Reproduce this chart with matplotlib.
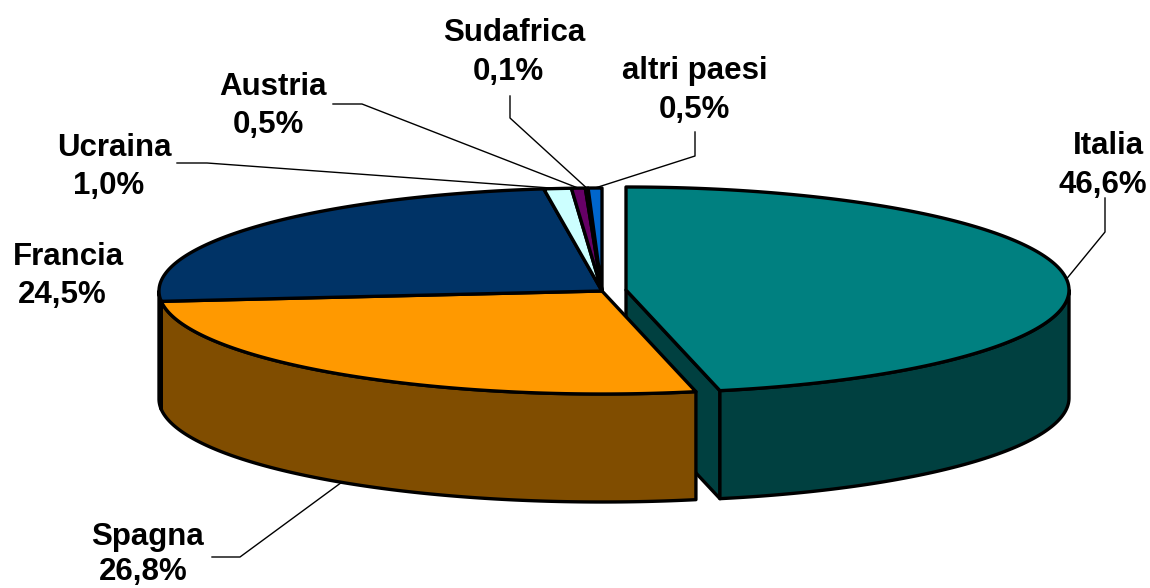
import numpy as np
from matplotlib import pyplot as plt

labels = ['Italia', 'Spagna', 'Francia', 'Ucraina', 'Austria', 'Sudafrica', 'altri paesi']
values = [46.6, 26.8, 24.5, 1.0, 0.5, 0.1, 0.5]
value_text = ['46,6%', '26,8%', '24,5%', '1,0%', '0,5%', '0,1%', '0,5%']
top_colors = ['#008080', '#FF9900', '#003366', '#CCFFFF', '#660066', '#660066', '#0066CC']
side_colors = ['#004040', '#804D00', '#001A33', '#668080', '#330033', '#330033', '#003366']

# Pie geometry, in pixels of the picture
CX, CY = 602, 291
RX, RY = 443, 103
DEPTH = 108
EXPLODE = 23
LW = 2.4

fig = plt.figure(figsize=(11.5, 5.88), dpi=100)
ax = fig.add_axes([0, 0, 1, 1])
ax.set_xlim(0, 1150)
ax.set_ylim(588, 0)
ax.axis('off')


def rim(t, cx, cy):
    t = np.radians(t)
    return cx + RX * np.sin(t), cy - RY * np.cos(t)


edges = np.concatenate([[0], np.cumsum(values)]) / sum(values) * 360
centers = [(CX + EXPLODE + 1 if i == 0 else CX, CY - 1 if i == 0 else CY) for i in range(len(values))]

# Italia's cut face goes first, the other slices overlap it
cx, cy = centers[0]
ex, ey = rim(edges[1], cx, cy)
ax.fill([cx, ex, ex, cx], [cy, ey, ey + DEPTH, cy + DEPTH],
        facecolor=side_colors[0], edgecolor='black', lw=LW, joinstyle='round')

# Outer walls, front half of the rim only
for i in range(len(values)):
    cx, cy = centers[i]
    a, b = edges[i], edges[i + 1]
    lo, hi = max(a, 90), min(b, 270)
    if lo >= hi:
        continue
    t = np.linspace(lo, hi, 120)
    x, y = rim(t, cx, cy)
    ax.fill(np.r_[x, x[::-1]], np.r_[y, (y + DEPTH)[::-1]],
            facecolor=side_colors[i], edgecolor='black', lw=LW, joinstyle='round')

# Top faces
for i in range(len(values)):
    cx, cy = centers[i]
    t = np.linspace(edges[i], edges[i + 1], 200)
    x, y = rim(t, cx, cy)
    ax.fill(np.r_[cx, x], np.r_[cy, y],
            facecolor=top_colors[i], edgecolor='black', lw=LW, joinstyle='round')

# Text centres for the name line and the value line, then leader line elbows
name_pos = [(1108, 146), (148, 537), (68, 257), (114, 148), (273, 87), (514, 33), (695, 71)]
value_pos = [(1103, 185), (143, 572), (62, 295), (109, 186), (268, 125), (508, 72), (694, 110)]
elbows = [
    [(1105, 232), (1105, 198)],
    [(240, 557), (212, 557)],
    [],
    [(207, 163), (177, 163)],
    [(362, 104), (333, 104)],
    [(510, 118), (510, 96)],
    [(695, 156), (695, 132)],
]

for i, name in enumerate(labels):
    ax.text(name_pos[i][0], name_pos[i][1], name, ha='center', va='center',
            family='Liberation Sans', weight='bold', fontsize=22.5, color='black')
    ax.text(value_pos[i][0], value_pos[i][1], value_text[i], ha='center', va='center',
            family='Liberation Sans', weight='bold', fontsize=22.5, color='black')
    if not elbows[i]:
        continue
    cx, cy = centers[i]
    mid = (edges[i] + edges[i + 1]) / 2
    ax_, ay_ = rim(mid, cx, cy)
    if 90 < mid < 270:
        ay_ += DEPTH
    pts = [(ax_, ay_)] + elbows[i]
    ax.plot([p[0] for p in pts], [p[1] for p in pts], color='black', lw=1.0)

fig.savefig('out.png', dpi=100)
